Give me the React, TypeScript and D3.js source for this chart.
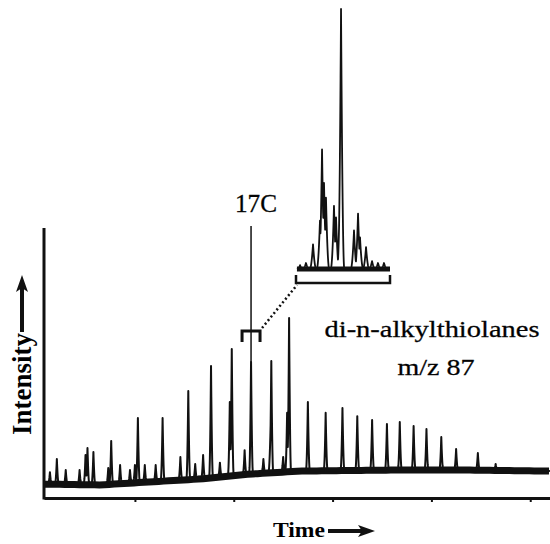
import React from 'react';
import * as d3 from 'd3';

// main trace: baseline knots (time, intensity)
const baseTimes = [0.8, 6.5, 11.5, 16.6, 21.7, 26.7, 36.8, 42.9, 52];
const baseLevels = [5.1, 4.8, 5.9, 7.0, 8.8, 9.9, 10.3, 10.3, 9.9];

// main trace peaks (apex intensity)
const peakTimes = [1.4, 2.1, 3.0, 4.4, 5.0, 5.2, 5.8, 7.3, 7.6, 8.5, 9.5, 10.0, 10.3, 11.0, 12.1, 12.8, 14.6, 15.4, 16.1, 16.9, 17.7,
  18.6, 19.6, 19.8, 21.1, 21.75, 23.0, 23.7, 23.8, 25.0, 25.4, 25.6, 27.5, 29.3, 31.0, 32.5, 34.0, 35.5, 36.8, 38.2, 39.5,
  41.0, 42.5, 44.7, 46.5];
const peakApex = [9.5, 14.3, 10.3, 10.3, 15.8, 18.4, 16.9, 11.0, 21.0, 12.1, 10.3, 12.1, 29.4, 12.1, 12.1, 29.4, 15.1, 39.3, 12.5, 15.8, 48.5,
  13.0, 35.3, 54.8, 17.6, 50.0, 14.3, 22.4, 50.4, 15.1, 31.3, 66.2, 35.3, 31.3, 33.1, 30.1, 28.7, 27.2, 27.9, 26.5, 25.4,
  22.4, 18.0, 16.5, 12.5];

// 17C marker
const markerTime = 21.75;
const markerTop = 100;
const markerLabel = '17C';

// expanded inset (local units)
const insetTimes = [4.3, 10.6, 18.1, 25.5, 27.7, 29.8, 31.9, 40.4, 42.6, 47.3, 47.9, 61.7, 66.0, 68.1, 74.5, 80.9, 87.2, 93.6];
const insetApex = [1.5, 2.3, 9.5, 18.6, 46.0, 33.1, 27.4, 24.3, 19.8, 49.0, 100, 14.8, 21.3, 12.2, 8.4, 3.0, 2.3, 2.3];

const timeTicks = [10, 20, 30, 40, 50];
const bracketRange = [20.84, 22.66];

function trace(times: number[], apex: number[], base: (t: number) => number, t0: number, t1: number, w: number, step: number) {
  const ts = d3.range(t0, t1, step).concat(times).sort((a, b) => a - b);
  return ts.map(t => {
    let v = base(t);
    times.forEach((ti, i) => {
      const k = 1 - Math.abs(t - ti) / w;
      if (k > 0) v = Math.max(v, base(t) + (apex[i] - base(ti)) * k * k);
    });
    return [t, v] as [number, number];
  });
}

export default function App() {
  const width = 550;
  const height = 544;

  const x = d3.scaleLinear().domain([0.8, 52]).range([44, 550]);
  const y = d3.scaleLinear().domain([0, 100]).range([498, 226]);
  const base = d3.scaleLinear().domain(baseTimes).range(baseLevels).clamp(true);

  const xi = d3.scaleLinear().domain([0, 100]).range([296, 390]);
  const yi = d3.scaleLinear().domain([0, 100]).range([269, 9]);

  const line = d3.line<[number, number]>().x(d => x(d[0])).y(d => y(d[1]));
  const lineIn = d3.line<[number, number]>().x(d => xi(d[0])).y(d => yi(d[1]));

  const mainPts = trace(peakTimes, peakApex, base, 0.9, 52, 0.2, 0.03);
  const basePts = d3.range(0.9, 52, 0.5).map(t => [t, base(t)] as [number, number]);
  const insetPts = trace(insetTimes, insetApex, () => 0, 1, 100, 3.5, 0.2);

  const serif = { fontFamily: 'Times New Roman, Liberation Serif, Tinos, serif' };
  const bx0 = x(bracketRange[0]);
  const bx1 = x(bracketRange[1]);
  const by = y(61.4);

  return (
    <svg width={width} height={height} style={{ position: 'absolute', left: 0, top: 0, background: '#fff' }}>
      {/* baseline band */}
      <path d={line(basePts) || ''} fill="none" stroke="#111" strokeWidth={7} />
      <path d={line(mainPts) || ''} fill="none" stroke="#111" strokeWidth={2} strokeLinejoin="round" />
      <line x1={x(markerTime)} x2={x(markerTime)} y1={y(50)} y2={y(markerTop)} stroke="#111" strokeWidth={1.5} />
      <text x={256} y={212} textAnchor="middle" style={serif} fontSize={25} textLength={42} lengthAdjust="spacingAndGlyphs" stroke="#111" strokeWidth={0.3}>{markerLabel}</text>

      {/* axes */}
      <g transform="translate(0,498)"
        ref={el => { if (el) d3.select(el).call(d3.axisBottom(x).tickValues(timeTicks).tickSize(4).tickSizeOuter(0).tickFormat(() => ''))
          .call(g => g.select('.domain').attr('stroke', '#111').attr('stroke-width', 3))
          .call(g => g.selectAll('.tick line').attr('stroke', '#111').attr('stroke-width', 2)); }} />
      <line x1={44} x2={44} y1={228} y2={499.5} stroke="#111" strokeWidth={3} />

      {/* zoom bracket + dotted connector */}
      <path d={`M${bx0},${by + 11}V${by}H${bx1}V${by + 11}`} fill="none" stroke="#111" strokeWidth={3} />
      <line x1={bx1 + 2} y1={by - 3} x2={297} y2={285} stroke="#111" strokeWidth={2.5} strokeDasharray="2,2.6" />

      {/* inset */}
      <line x1={xi(1)} x2={xi(100)} y1={yi(0)} y2={yi(0)} stroke="#111" strokeWidth={5} />
      <path d={lineIn(insetPts) || ''} fill="none" stroke="#111" strokeWidth={1.8} strokeLinejoin="round" />
      <path d={`M296,275V283H390V275`} fill="none" stroke="#111" strokeWidth={2.5} />

      {/* labels */}
      <text x={432} y={337} textAnchor="middle" style={serif} fontSize={24} textLength={215} lengthAdjust="spacingAndGlyphs" stroke="#111" strokeWidth={0.3}>di-n-alkylthiolanes</text>
      <text x={436} y={375} textAnchor="middle" style={serif} fontSize={24} textLength={77} lengthAdjust="spacingAndGlyphs" stroke="#111" strokeWidth={0.3}>m/z 87</text>

      <text x={299} y={537} textAnchor="middle" style={serif} fontSize={22} fontWeight="bold" textLength={52} lengthAdjust="spacingAndGlyphs">Time</text>
      <line x1={328} x2={362} y1={531} y2={531} stroke="#111" strokeWidth={4} />
      <path d="M358,525L375,531L358,537L362,531Z" fill="#111" />

      <text transform="translate(31,384) rotate(-90)" textAnchor="middle" style={serif} fontSize={27} fontWeight="bold" textLength={102} lengthAdjust="spacingAndGlyphs">Intensity</text>
      <line x1={22} x2={22} y1={332} y2={288} stroke="#111" strokeWidth={4} />
      <path d="M16,292L22,275L28,292L22,288Z" fill="#111" />
    </svg>
  );
}
